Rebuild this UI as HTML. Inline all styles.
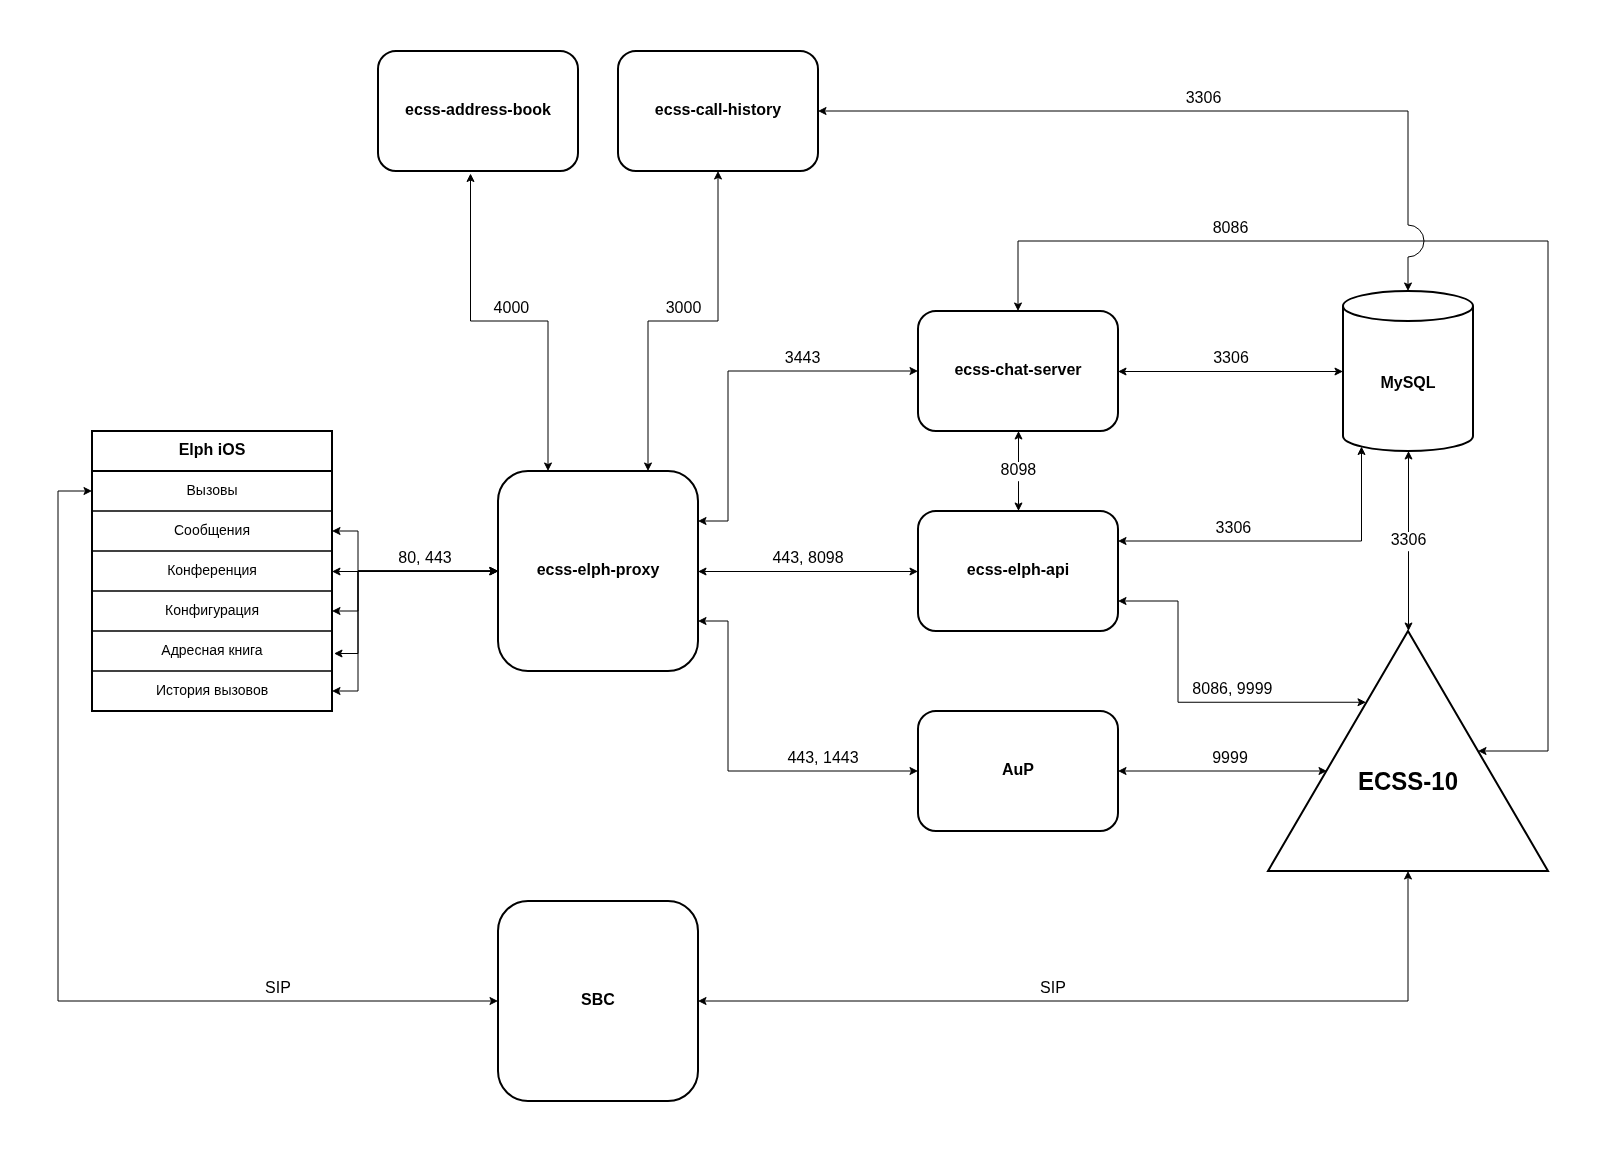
<!DOCTYPE html>
<html><head><meta charset="utf-8"><style>
html,body{margin:0;padding:0;background:#fff;overflow:hidden;}
svg{display:block;font-family:"Liberation Sans", sans-serif;will-change:transform;}
.s{fill:#fff;stroke:#000;stroke-width:2;stroke-miterlimit:10;}
.e{fill:none;stroke:#000;stroke-width:1;stroke-miterlimit:10;}
.a{fill:#000;stroke:#000;stroke-width:1;stroke-miterlimit:10;}
.t{fill:#000;text-anchor:middle;}
.tb{fill:#000;text-anchor:middle;font-weight:bold;}
</style></head><body>
<svg width="1608" height="1153" viewBox="0 0 1608 1153">
<rect width="1608" height="1153" fill="#fff"/>
<rect x="378" y="51" width="200" height="120" rx="18" ry="18" class="s"/>
<rect x="618" y="51" width="200" height="120" rx="18" ry="18" class="s"/>
<rect x="498" y="471" width="200" height="200" rx="30" ry="30" class="s"/>
<rect x="918" y="311" width="200" height="120" rx="18" ry="18" class="s"/>
<rect x="918" y="511" width="200" height="120" rx="18" ry="18" class="s"/>
<rect x="918" y="711" width="200" height="120" rx="18" ry="18" class="s"/>
<rect x="498" y="901" width="200" height="200" rx="30" ry="30" class="s"/>
<rect x="92" y="431" width="240" height="280" class="s"/>
<path d="M92 511 L332 511" stroke="#404040" stroke-width="2"/>
<path d="M92 551 L332 551" stroke="#404040" stroke-width="2"/>
<path d="M92 591 L332 591" stroke="#404040" stroke-width="2"/>
<path d="M92 631 L332 631" stroke="#404040" stroke-width="2"/>
<path d="M92 671 L332 671" stroke="#404040" stroke-width="2"/>
<path d="M92 471 L332 471" stroke="#000" stroke-width="2"/>
<rect x="92" y="431" width="240" height="280" fill="none" stroke="#000" stroke-width="2"/>
<path d="M1343 306 A65.0 15 0 0 1 1473 306 L1473 436 A65.0 15 0 0 1 1343 436 Z" class="s"/>
<path d="M1343 306 A65.0 15 0 0 0 1473 306" fill="none" stroke="#000" stroke-width="2"/>
<path d="M1268 871 L1408 631 L1548 871 Z" class="s"/>
<path d="M470.5 179.87 L470.5 321 L548 321 L548 464.63" class="e"/>
<path d="M548.00 469.88L544.50 462.88L548.00 464.63L551.50 462.88Z" class="a"/>
<path d="M470.50 174.62L474.00 181.62L470.50 179.87L467.00 181.62Z" class="a"/>
<path d="M718 177.37 L718 321 L648 321 L648 464.63" class="e"/>
<path d="M648.00 469.88L644.50 462.88L648.00 464.63L651.50 462.88Z" class="a"/>
<path d="M718.00 172.12L721.50 179.12L718.00 177.37L714.50 179.12Z" class="a"/>
<path d="M1408 284.63 L1408.0 257 A16 16 0 0 0 1408.0 225 L1408 111 L824.37 111" class="e"/>
<path d="M819.12 111.00L826.12 107.50L824.37 111.00L826.12 114.50Z" class="a"/>
<path d="M1408.00 289.88L1404.50 282.88L1408.00 284.63L1411.50 282.88Z" class="a"/>
<path d="M1484.37 751 L1548 751 L1548 241 L1018 241 L1018 304.63" class="e"/>
<path d="M1018.00 309.88L1014.50 302.88L1018.00 304.63L1021.50 302.88Z" class="a"/>
<path d="M1479.12 751.00L1486.12 747.50L1484.37 751.00L1486.12 754.50Z" class="a"/>
<path d="M704.37 521 L728 521 L728 371 L911.63 371" class="e"/>
<path d="M916.88 371.00L909.88 374.50L911.63 371.00L909.88 367.50Z" class="a"/>
<path d="M699.12 521.00L706.12 517.50L704.37 521.00L706.12 524.50Z" class="a"/>
<path d="M1124.37 371.5 L1336.63 371.5" class="e"/>
<path d="M1341.88 371.50L1334.88 375.00L1336.63 371.50L1334.88 368.00Z" class="a"/>
<path d="M1119.12 371.50L1126.12 368.00L1124.37 371.50L1126.12 375.00Z" class="a"/>
<path d="M1018.5 437.37 L1018.5 504.63" class="e"/>
<path d="M1018.50 509.88L1015.00 502.88L1018.50 504.63L1022.00 502.88Z" class="a"/>
<path d="M1018.50 432.12L1022.00 439.12L1018.50 437.37L1015.00 439.12Z" class="a"/>
<path d="M1124.37 541 L1361.5 541 L1361.5 452.87" class="e"/>
<path d="M1361.50 447.62L1365.00 454.62L1361.50 452.87L1358.00 454.62Z" class="a"/>
<path d="M1119.12 541.00L1126.12 537.50L1124.37 541.00L1126.12 544.50Z" class="a"/>
<path d="M1408.5 457.37 L1408.5 624.63" class="e"/>
<path d="M1408.50 629.88L1405.00 622.88L1408.50 624.63L1412.00 622.88Z" class="a"/>
<path d="M1408.50 452.12L1412.00 459.12L1408.50 457.37L1405.00 459.12Z" class="a"/>
<path d="M704.37 571.5 L911.63 571.5" class="e"/>
<path d="M916.88 571.50L909.88 575.00L911.63 571.50L909.88 568.00Z" class="a"/>
<path d="M699.12 571.50L706.12 568.00L704.37 571.50L706.12 575.00Z" class="a"/>
<path d="M1124.37 601 L1178 601 L1178 702.25 L1359.63 702.25" class="e"/>
<path d="M1364.88 702.25L1357.88 705.75L1359.63 702.25L1357.88 698.75Z" class="a"/>
<path d="M1119.12 601.00L1126.12 597.50L1124.37 601.00L1126.12 604.50Z" class="a"/>
<path d="M704.37 621 L728 621 L728 771 L911.63 771" class="e"/>
<path d="M916.88 771.00L909.88 774.50L911.63 771.00L909.88 767.50Z" class="a"/>
<path d="M699.12 621.00L706.12 617.50L704.37 621.00L706.12 624.50Z" class="a"/>
<path d="M1124.37 771 L1320.63 771" class="e"/>
<path d="M1325.88 771.00L1318.88 774.50L1320.63 771.00L1318.88 767.50Z" class="a"/>
<path d="M1119.12 771.00L1126.12 767.50L1124.37 771.00L1126.12 774.50Z" class="a"/>
<path d="M491.63 571.5 L338.37 571.5" class="e"/>
<path d="M333.12 571.50L340.12 568.00L338.37 571.50L340.12 575.00Z" class="a"/>
<path d="M496.88 571.50L489.88 575.00L491.63 571.50L489.88 568.00Z" class="a"/>
<path d="M491.63 571 L358 571 L358 531 L338.37 531" class="e"/>
<path d="M333.12 531.00L340.12 527.50L338.37 531.00L340.12 534.50Z" class="a"/>
<path d="M496.88 571.00L489.88 574.50L491.63 571.00L489.88 567.50Z" class="a"/>
<path d="M491.63 571 L358 571 L358 611 L338.37 611" class="e"/>
<path d="M333.12 611.00L340.12 607.50L338.37 611.00L340.12 614.50Z" class="a"/>
<path d="M496.88 571.00L489.88 574.50L491.63 571.00L489.88 567.50Z" class="a"/>
<path d="M491.63 571 L358 571 L358 653.5 L340.37 653.5" class="e"/>
<path d="M335.12 653.50L342.12 650.00L340.37 653.50L342.12 657.00Z" class="a"/>
<path d="M496.88 571.00L489.88 574.50L491.63 571.00L489.88 567.50Z" class="a"/>
<path d="M491.63 571 L358 571 L358 691 L338.37 691" class="e"/>
<path d="M333.12 691.00L340.12 687.50L338.37 691.00L340.12 694.50Z" class="a"/>
<path d="M496.88 571.00L489.88 574.50L491.63 571.00L489.88 567.50Z" class="a"/>
<path d="M491.63 1001 L58 1001 L58 491 L85.63 491" class="e"/>
<path d="M90.88 491.00L83.88 494.50L85.63 491.00L83.88 487.50Z" class="a"/>
<path d="M496.88 1001.00L489.88 1004.50L491.63 1001.00L489.88 997.50Z" class="a"/>
<path d="M704.37 1001 L1408 1001 L1408 877.37" class="e"/>
<path d="M1408.00 872.12L1411.50 879.12L1408.00 877.37L1404.50 879.12Z" class="a"/>
<path d="M699.12 1001.00L706.12 997.50L704.37 1001.00L706.12 1004.50Z" class="a"/>
<rect x="1185.7" y="90" width="35.59" height="19.2" fill="#fff"/>
<text x="1203.5" y="103" class="t" font-size="16">3306</text>
<rect x="1212.7" y="220" width="35.59" height="19.2" fill="#fff"/>
<text x="1230.5" y="233" class="t" font-size="16">8086</text>
<rect x="493.6" y="300" width="35.59" height="19.2" fill="#fff"/>
<text x="511.4" y="313" class="t" font-size="16">4000</text>
<rect x="665.7" y="300" width="35.59" height="19.2" fill="#fff"/>
<text x="683.5" y="313" class="t" font-size="16">3000</text>
<rect x="784.8" y="350" width="35.59" height="19.2" fill="#fff"/>
<text x="802.6" y="363" class="t" font-size="16">3443</text>
<rect x="1213.2" y="350" width="35.59" height="19.2" fill="#fff"/>
<text x="1231" y="363" class="t" font-size="16">3306</text>
<rect x="1000.6" y="462" width="35.59" height="19.2" fill="#fff"/>
<text x="1018.4" y="475" class="t" font-size="16">8098</text>
<rect x="1215.6" y="520" width="35.59" height="19.2" fill="#fff"/>
<text x="1233.4" y="533" class="t" font-size="16">3306</text>
<rect x="1390.7" y="532" width="35.59" height="19.2" fill="#fff"/>
<text x="1408.5" y="545" class="t" font-size="16">3306</text>
<rect x="398.31" y="550" width="53.38" height="19.2" fill="#fff"/>
<text x="425" y="563" class="t" font-size="16">80, 443</text>
<rect x="772.41" y="550" width="71.18" height="19.2" fill="#fff"/>
<text x="808" y="563" class="t" font-size="16">443, 8098</text>
<rect x="1192.36" y="681" width="80.08" height="19.2" fill="#fff"/>
<text x="1232.4" y="694" class="t" font-size="16">8086, 9999</text>
<rect x="787.41" y="750" width="71.18" height="19.2" fill="#fff"/>
<text x="823" y="763" class="t" font-size="16">443, 1443</text>
<rect x="1212.2" y="750" width="35.59" height="19.2" fill="#fff"/>
<text x="1230" y="763" class="t" font-size="16">9999</text>
<rect x="265.11" y="980" width="25.79" height="19.2" fill="#fff"/>
<text x="278" y="993" class="t" font-size="16">SIP</text>
<rect x="1040.11" y="980" width="25.79" height="19.2" fill="#fff"/>
<text x="1053" y="993" class="t" font-size="16">SIP</text>
<text x="478" y="115" class="tb" font-size="16">ecss-address-book</text>
<text x="718" y="115" class="tb" font-size="16">ecss-call-history</text>
<text x="598" y="575" class="tb" font-size="16">ecss-elph-proxy</text>
<text x="1018" y="375" class="tb" font-size="16">ecss-chat-server</text>
<text x="1018" y="575" class="tb" font-size="16">ecss-elph-api</text>
<text x="1018" y="775" class="tb" font-size="16">AuP</text>
<text x="598" y="1005" class="tb" font-size="16">SBC</text>
<text x="212" y="455" class="tb" font-size="16">Elph iOS</text>
<text x="212" y="495" class="t" font-size="14">Вызовы</text>
<text x="212" y="535" class="t" font-size="14">Сообщения</text>
<text x="212" y="575" class="t" font-size="14">Конференция</text>
<text x="212" y="615" class="t" font-size="14">Конфигурация</text>
<text x="212" y="655" class="t" font-size="14">Адресная книга</text>
<text x="212" y="695" class="t" font-size="14">История вызовов</text>
<text x="1408" y="388" class="tb" font-size="16">MySQL</text>
<text x="0" y="0" class="tb" font-size="24" transform="translate(1408 790) scale(1 1.047)">ECSS-10</text>
</svg></body></html>
